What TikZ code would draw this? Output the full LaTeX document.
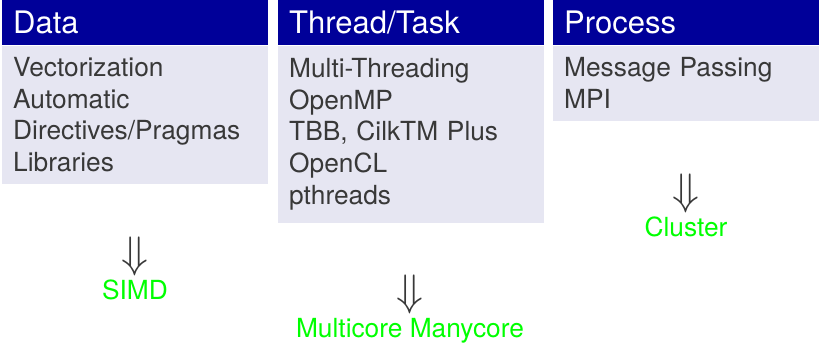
\RequirePackage{fix-cm}
\documentclass[tikz,border=0pt]{standalone}
\usepackage{fontspec}
\setmainfont{TeX Gyre Heros}
\usepackage{tikz}
\usetikzlibrary{positioning}
\definecolor{headblue}{RGB}{0,0,153}
\definecolor{bodyblue}{RGB}{230,230,242}
\definecolor{bodytext}{RGB}{56,56,56}
\definecolor{resultgreen}{RGB}{0,255,0}

\begin{document}
\begin{tikzpicture}[x=1pt, y=1pt,
    header/.style={rectangle, fill=headblue, text=white, anchor=north west, minimum width=266pt, minimum height=45pt, inner xsep=11pt, inner ysep=0pt, text width=244pt, align=left, text height=22pt, text depth=0pt, font=\fontsize{31}{37}\selectfont},
    blockbody/.style={rectangle, fill=bodyblue, text=bodytext, minimum width=266pt, inner xsep=11pt, inner ysep=0pt, text width=244pt, align=left, font=\fontsize{26.3}{31.6}\selectfont},
    result/.style={text=resultgreen, inner sep=0pt, anchor=base, font=\fontsize{26.3}{31.6}\selectfont},
    implies/.style={text=bodytext, inner sep=0pt, font=\fontsize{44}{44}\selectfont},
    node distance=4pt
]
\useasboundingbox (0,0) rectangle (819,-344);

% Data block
\node[header] (dataHead) at (2,0) {Data};
\node[blockbody, minimum height=138pt, below=0pt of dataHead] (dataBody) {
    Vectorization \\
    Automatic \\
    Directives/Pragmas \\
    Libraries
};

% Thread/Task block
\node[header] (threadHead) at (278,0) {Thread/Task};
\node[blockbody, minimum height=177pt, below=0pt of threadHead] (threadBody) {
    Multi-Threading \\
    OpenMP \\
    TBB, CilkTM Plus \\
    OpenCL \\
    pthreads
};

% Process block
\node[header] (procHead) at (553,0) {Process};
\node[blockbody, minimum height=75pt, below=0pt of procHead] (procBody) {
    Message Passing \\
    MPI
};

% Results
\node[result] (simd) at (135,-300) {SIMD};
\node[implies, above=of simd] (simdArrow) {$\Downarrow$};

\node[result] (multicore) at (410,-338) {Multicore Manycore};
\node[implies, above=of multicore] (multicoreArrow) {$\Downarrow$};

\node[result] (cluster) at (686,-237) {Cluster};
\node[implies, above=of cluster] (clusterArrow) {$\Downarrow$};

\end{tikzpicture}
\end{document}
